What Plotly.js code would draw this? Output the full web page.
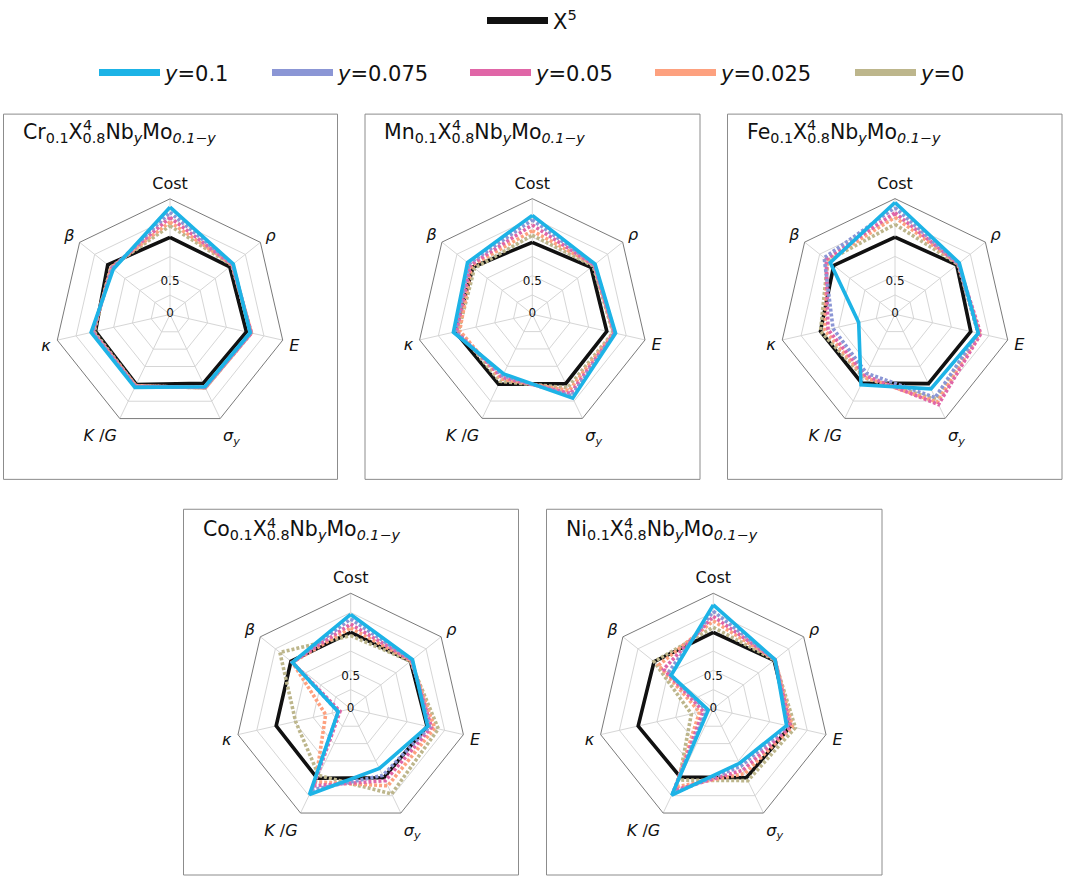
<!DOCTYPE html>
<html><head><meta charset="utf-8">
<script src="https://cdn.plot.ly/plotly-3.0.1.min.js"></script>
<style>html,body{margin:0;padding:0;background:#fff}#chart{width:1065px;height:878px}</style>
</head><body><div id="chart"></div><script>
// ---------- data ----------
const categories = ['Cost','<i>ρ</i>','<i>E</i>','<i>σ</i><sub><i>y</i></sub>','<i>K</i> /<i>G</i>','<i>κ</i>','<i>β</i>'];
const seriesNames = ['X<sup>5</sup>','<i>y</i>=0.1','<i>y</i>=0.075','<i>y</i>=0.05','<i>y</i>=0.025','<i>y</i>=0'];
const seriesColors = ['#111111','#1db3e6','#8b96d5','#e066a7','#fda17f','#bdb68c'];
const radialTickVals = [0, 0.5];
const radialTickText = ['0', '0.5'];
const gridRings = [0.3, 0.6, 0.9, 1.2, 1.5];
const panelElements = ['Cr','Mn','Fe','Co','Ni'];

const cr_x5    = [1.20, 1.19, 1.22, 1.19, 1.21, 1.19, 1.24];
const cr_y0100 = [1.67, 1.26, 1.28, 1.25, 1.26, 1.26, 1.13];
const cr_y0075 = [1.59, 1.25, 1.29, 1.26, 1.25, 1.24, 1.15];
const cr_y0050 = [1.51, 1.24, 1.30, 1.26, 1.24, 1.23, 1.16];
const cr_y0025 = [1.44, 1.24, 1.30, 1.27, 1.23, 1.23, 1.17];
const cr_y0000 = [1.38, 1.23, 1.30, 1.27, 1.23, 1.21, 1.18];

const mn_x5    = [1.12, 1.17, 1.19, 1.20, 1.21, 1.23, 1.18];
const mn_y0100 = [1.54, 1.25, 1.33, 1.45, 1.03, 1.26, 1.29];
const mn_y0075 = [1.47, 1.24, 1.32, 1.41, 1.06, 1.23, 1.26];
const mn_y0050 = [1.39, 1.23, 1.31, 1.37, 1.09, 1.21, 1.23];
const mn_y0025 = [1.30, 1.23, 1.30, 1.32, 1.12, 1.16, 1.21];
const mn_y0000 = [1.23, 1.21, 1.29, 1.27, 1.16, 1.18, 1.15];

const fe_x5    = [1.20, 1.23, 1.21, 1.20, 1.19, 1.19, 1.22];
const fe_y0100 = [1.74, 1.28, 1.33, 1.29, 1.22, 0.58, 1.29];
const fe_y0075 = [1.66, 1.26, 1.33, 1.44, 1.02, 0.99, 1.41];
const fe_y0050 = [1.58, 1.26, 1.37, 1.56, 1.06, 1.07, 1.37];
const fe_y0025 = [1.51, 1.26, 1.35, 1.52, 1.09, 1.12, 1.35];
const fe_y0000 = [1.40, 1.25, 1.33, 1.47, 1.10, 1.19, 1.34];

const co_x5    = [1.19, 1.19, 1.22, 1.19, 1.20, 1.19, 1.19];
const co_y0100 = [1.47, 1.23, 1.23, 1.03, 1.48, 0.20, 1.16];
const co_y0075 = [1.40, 1.22, 1.26, 1.15, 1.40, 0.20, 1.16];
const co_y0050 = [1.32, 1.21, 1.29, 1.24, 1.33, 0.17, 1.16];
const co_y0025 = [1.26, 1.20, 1.34, 1.33, 1.26, 0.40, 1.16];
const co_y0000 = [1.14, 1.19, 1.40, 1.47, 1.15, 0.88, 1.41];

const ni_x5    = [1.19, 1.21, 1.23, 1.19, 1.18, 1.20, 1.18];
const ni_y0100 = [1.62, 1.23, 1.17, 0.94, 1.49, 0.08, 0.84];
const ni_y0075 = [1.52, 1.23, 1.19, 0.99, 1.46, 0.11, 0.90];
const ni_y0050 = [1.44, 1.23, 1.23, 1.06, 1.41, 0.16, 0.99];
const ni_y0025 = [1.37, 1.23, 1.26, 1.12, 1.35, 0.22, 1.09];
const ni_y0000 = [1.27, 1.22, 1.31, 1.24, 1.23, 0.35, 1.18];

const panelSeries = [
  [cr_x5, cr_y0100, cr_y0075, cr_y0050, cr_y0025, cr_y0000],
  [mn_x5, mn_y0100, mn_y0075, mn_y0050, mn_y0025, mn_y0000],
  [fe_x5, fe_y0100, fe_y0075, fe_y0050, fe_y0025, fe_y0000],
  [co_x5, co_y0100, co_y0075, co_y0050, co_y0025, co_y0000],
  [ni_x5, ni_y0100, ni_y0075, ni_y0050, ni_y0025, ni_y0000]
];

// ---------- layout geometry (pixels) ----------
const W = 1065, H = 878, R = 116;
const centers = [[170,312.5],[532.3,312.3],[895,312.3],[350.7,708.3],[713.3,708.3]];
const boxes = [[3.5,111.5,337.5,478],[365,111.5,700,478],[727.5,111.5,1062,478],[183.5,508,518.5,875],[546.5,508,882,875]];
const titleY = [130,130,130,529,529];
const px = x => x / W, py = y => 1 - y / H;
const FONT = 'DejaVu Sans, Verdana, sans-serif';
const TITLE_SIZE = 20.5;

const canvas = document.createElement('canvas');
const ctx = canvas.getContext('2d');
function textWidth(str, size) { ctx.font = size + 'px "DejaVu Sans"'; return ctx.measureText(str).width; }

const traces = [];
const drawOrder = [0, 5, 4, 3, 2, 1];
panelSeries.forEach((series, p) => {
  const sp = p === 0 ? 'polar' : 'polar' + (p + 1);
  drawOrder.forEach(s => {
    const vals = series[s];
    traces.push({
      type: 'scatterpolar', subplot: sp, mode: 'lines',
      r: vals.concat([vals[0]]), theta: categories.concat([categories[0]]),
      line: {color: seriesColors[s], width: 3.6, dash: s <= 1 ? 'solid' : '3px,2px'},
      showlegend: false, hoverinfo: 'skip'
    });
  });
  traces.push({
    type: 'scatterpolar', subplot: sp, mode: 'text',
    r: radialTickVals, theta: radialTickVals.map(() => categories[0]),
    text: radialTickText, textposition: 'middle center',
    textfont: {family: FONT, size: 12, color: '#111'},
    showlegend: false, hoverinfo: 'skip', cliponaxis: true
  });
});

// legend entries (one legend per entry to place them exactly)
const legendX = [487, 99, 272, 470, 655, 855];
const legendY = [18, 70, 70, 70, 70, 70];
seriesNames.forEach((nm, s) => {
  traces.push({
    type: 'scatterpolar', subplot: 'polar', mode: 'lines', r: [null], theta: [null],
    name: nm, line: {color: seriesColors[s], width: 7},
    legend: s === 0 ? 'legend' : 'legend' + (s + 1), hoverinfo: 'skip'
  });
});

const layout = {
  width: W, height: H, margin: {l:0, r:0, t:0, b:0},
  paper_bgcolor: '#fff', plot_bgcolor: '#fff',
  font: {family: FONT, color: '#111'},
  showlegend: true, shapes: [], annotations: []
};
seriesNames.forEach((nm, s) => {
  const key = s === 0 ? 'legend' : 'legend' + (s + 1);
  layout[key] = {
    orientation: 'h', x: px(legendX[s] - 5), y: py(legendY[s]), xanchor: 'left', yanchor: 'middle',
    bgcolor: 'rgba(0,0,0,0)', borderwidth: 0, itemwidth: 61,
    font: {family: FONT, size: 21, color: '#111'}
  };
});

centers.forEach(([cx, cy], p) => {
  const key = p === 0 ? 'polar' : 'polar' + (p + 1);
  layout[key] = {
    domain: {x: [px(cx - R), px(cx + R)], y: [py(cy + R), py(cy - R)]},
    gridshape: 'linear', bgcolor: 'rgba(0,0,0,0)', hole: 0,
    angularaxis: {
      type: 'category', categoryorder: 'array', categoryarray: categories,
      direction: 'clockwise', rotation: 90,
      showline: true, linecolor: '#7a7a7a', linewidth: 1,
      gridcolor: '#d6d6d6', gridwidth: 1, ticks: 'outside', ticklen: 3, tickcolor: 'rgba(0,0,0,0)',
      tickfont: {family: FONT, size: 16, color: '#111'}
    },
    radialaxis: {
      range: [0, 1.8], tickmode: 'array', tickvals: gridRings, showticklabels: false,
      ticks: '', showline: false, gridcolor: '#d6d6d6', gridwidth: 1, angle: 90
    }
  };
  const b = boxes[p];
  layout.shapes.push({type: 'rect', xref: 'paper', yref: 'paper',
    x0: px(b[0]), x1: px(b[2]), y0: py(b[3]), y1: py(b[1]),
    line: {color: '#8c8c8c', width: 1}, fillcolor: 'rgba(0,0,0,0)', layer: 'below'});
  const el = panelElements[p];
  const x0 = b[0] + 17;
  layout.annotations.push({
    xref: 'paper', yref: 'paper', x: px(x0), y: py(titleY[p]),
    xanchor: 'left', yanchor: 'middle', showarrow: false,
    text: el + '<sub>0.1</sub>X<sub>0.8</sub>Nb<sub><i>y</i></sub>Mo<sub><i>0.1−y</i></sub>',
    font: {family: FONT, size: TITLE_SIZE, color: '#111'}
  });
  // stacked superscript "4" above the 0.8 subscript of X
  const pre = textWidth(el, TITLE_SIZE) + textWidth('0.1', TITLE_SIZE * 0.7) + textWidth('X', TITLE_SIZE);
  layout.annotations.push({
    xref: 'paper', yref: 'paper', x: px(x0 + pre + 0.5), y: py(titleY[p] - 7.5),
    xanchor: 'left', yanchor: 'middle', showarrow: false,
    text: '4', font: {family: FONT, size: TITLE_SIZE * 0.7, color: '#111'}
  });
});

Plotly.newPlot('chart', traces, layout, {staticPlot: true, displayModeBar: false});
</script></body></html>
